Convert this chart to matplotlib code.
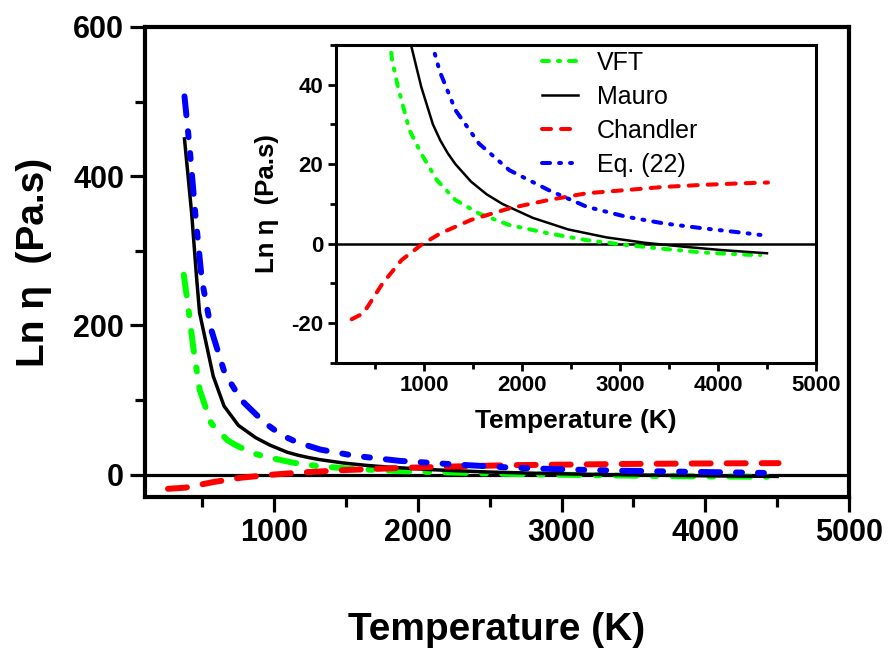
import matplotlib
matplotlib.use("Agg")
import matplotlib.pyplot as plt
from matplotlib.ticker import MultipleLocator

plt.rcParams['font.family'] = ['Liberation Sans', 'DejaVu Sans']
plt.rcParams['lines.scale_dashes'] = False
plt.rcParams['axes.unicode_minus'] = False

# Temperature (K) and Ln(eta)
T_vft = [370, 400, 435, 480, 560, 673, 732, 850, 970, 1130, 1320, 1560, 1870, 2270, 2660, 3060, 3450, 3840, 4240, 4430]
v_vft = [268, 226, 172, 114, 69, 46.2, 39.5, 28.6, 22.7, 16, 11, 7.6, 4.7, 2.6, 0.9, -0.3, -1.3, -2.2, -2.7, -2.9]

T_mauro = [375, 425, 460, 480, 575, 650, 750, 870, 970, 1090, 1165, 1240, 1320, 1480, 1640, 1800, 2110, 2470, 2860, 3250, 3650, 4040, 4500]
v_mauro = [450, 350, 262, 217, 132, 92, 66, 49.6, 39.5, 30, 26, 22.8, 20, 15.6, 12.4, 10.0, 6.5, 3.6, 1.6, 0.25, -0.75, -1.6, -2.4]

T_chandler = [260, 380, 575, 770, 970, 1165, 1480, 1870, 2270, 2660, 3060, 3450, 3840, 4240, 4510]
v_chandler = [-19, -17.5, -10, -4.1, -0.3, 2.6, 6, 8.9, 11, 12.7, 13.5, 14.3, 14.8, 15.2, 15.4]

T_eq22 = [375, 410, 450, 495, 560, 655, 770, 930, 1050, 1160, 1320, 1560, 1870, 2270, 2660, 3060, 3450, 3840, 4240, 4500]
v_eq22 = [507, 440, 350, 262, 195, 136, 100, 70, 53, 43.3, 33.6, 25.2, 18.5, 13.5, 9.3, 6.8, 5.1, 3.9, 2.8, 2.0]

labels = ['VFT', 'Mauro', 'Chandler', 'Eq. (22)']

fig = plt.figure(figsize=(8.9, 6.49), dpi=100)

# ---- main axes ----
ax = fig.add_axes([0.1629, 0.2342, 0.791, 0.7242])
ax.axhline(0, color='black', lw=2.3, zorder=1)
ax.plot(T_vft, v_vft, color='#00ff00', lw=4.3, dashes=(15, 11.5, 2.9, 11.5), dash_capstyle='round')
ax.plot(T_mauro, v_mauro, color='black', lw=2.5)
ax.plot(T_chandler, v_chandler, color='#ff0000', lw=4.3, dashes=(13.7, 11.5), dash_capstyle='round')
ax.plot(T_eq22, v_eq22, color='#0000ff', lw=4.3, dashes=(13.7, 11.5, 4.3, 11.5, 4.3, 11.5), dash_capstyle='round')

ax.set_xlim(100, 5000)
ax.set_ylim(-30, 600)
ax.set_xticks([1000, 2000, 3000, 4000, 5000])
ax.xaxis.set_minor_locator(MultipleLocator(500))
ax.yaxis.set_major_locator(MultipleLocator(200))
ax.yaxis.set_minor_locator(MultipleLocator(100))
for s in ax.spines.values():
    s.set_linewidth(3)
ax.tick_params(which='major', length=11, width=2.3, pad=4)
ax.tick_params(which='minor', length=7, width=2.3)
for lab in ax.get_xticklabels() + ax.get_yticklabels():
    lab.set_fontsize(22)
    lab.set_fontweight('bold')
ax.set_xlabel('Temperature (K)', fontsize=28, fontweight='bold')
ax.set_ylabel('Ln η  (Pa.s)', fontsize=28, fontweight='bold')
ax.xaxis.set_label_coords(0.5, -0.245)
ax.yaxis.set_label_coords(-0.132, 0.5)

# ---- inset axes ----
ins = fig.add_axes([0.3775, 0.4407, 0.5393, 0.49])
ins.axhline(0, color='black', lw=1.8, zorder=1)
ins.plot(T_vft, v_vft, color='#00ff00', lw=2.9, dashes=(5, 6.5, 1.5, 6.5), dash_capstyle='round', label=labels[0])
ins.plot(T_mauro, v_mauro, color='black', lw=1.8, label=labels[1])
ins.plot(T_chandler, v_chandler, color='#ff0000', lw=2.9, dashes=(6.5, 7.2), dash_capstyle='round', label=labels[2])
ins.plot(T_eq22, v_eq22, color='#0000ff', lw=2.9, dashes=(5.8, 6.5, 1.4, 6.5, 1.4, 6.5), dash_capstyle='round', label=labels[3])

ins.set_xlim(100, 5000)
ins.set_ylim(-30, 50)
ins.set_xticks([1000, 2000, 3000, 4000, 5000])
ins.xaxis.set_minor_locator(MultipleLocator(500))
ins.set_yticks([-20, 0, 20, 40])
ins.yaxis.set_minor_locator(MultipleLocator(10))
for s in ins.spines.values():
    s.set_linewidth(2.2)
ins.tick_params(which='major', length=6, width=2, pad=3)
ins.tick_params(which='minor', length=4.5, width=2)
for lab in ins.get_xticklabels() + ins.get_yticklabels():
    lab.set_fontsize(16)
    lab.set_fontweight('bold')
ins.set_xlabel('Temperature (K)', fontsize=19, fontweight='bold', labelpad=9)
ins.set_ylabel('Ln η  (Pa.s)', fontsize=18.5, fontweight='bold', labelpad=9)

ins.legend(loc='upper left', bbox_to_anchor=(542 / 890, 1 - 51 / 649), bbox_transform=fig.transFigure,
           frameon=False, fontsize=18, handlelength=1.45, handletextpad=0.75, labelspacing=0.4,
           borderpad=0, borderaxespad=0)

fig.savefig('out.png', dpi=100)
